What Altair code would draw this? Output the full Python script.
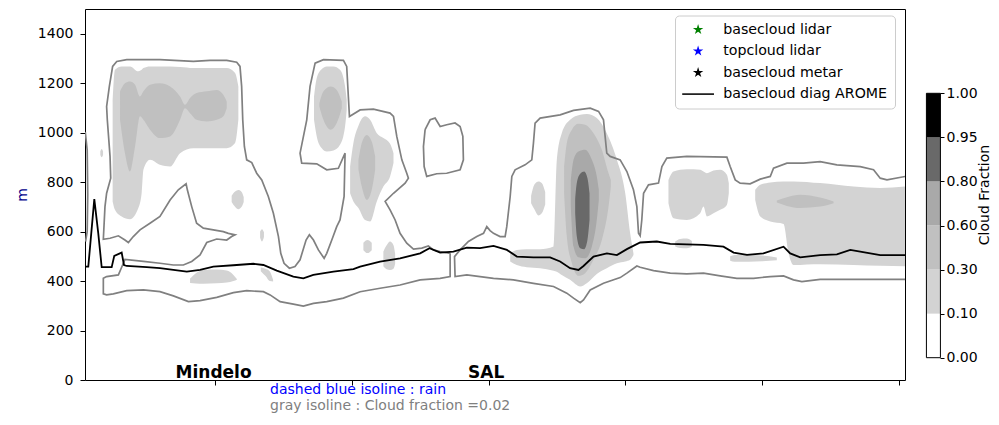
import json
import altair as alt
import pandas as pd

# ---------------- scales / ticks ----------------
x_domain = [5, 604.4]
y_domain = [0, 1500]
x_ticks = [100, 200, 300, 400, 500, 600]
y_ticks = [0, 200, 400, 600, 800, 1000, 1200, 1400]

# ---------------- basecloud diag AROME (black line) ----------------
arome_x = [5.7, 7.4, 11.8, 14.7, 17.2, 24.5, 26.4, 31.8, 33.5, 35.5, 50.1, 59.8, 69.6, 79.4, 89.1, 98.8,
           113.4, 128.1, 135.4, 145.2, 157.3, 164.6, 171.9, 186.6, 201.2, 206.1, 220.7, 235.3, 250.0, 256.8,
           264.6, 274.3, 284.1, 293.8, 303.6, 313.4, 320.7, 332.8, 345.0, 352.3, 359.6, 365.7, 369.4, 376.7,
           386.5, 393.8, 401.1, 410.8, 423.0, 432.8, 457.1, 471.7, 479.1, 488.9, 501.0, 515.6, 520.5, 527.8,
           542.4, 554.6, 564.4, 571.7, 586.3, 604.6]
arome_y = [458, 458, 731, 593, 456, 456, 502, 515, 465, 461, 456, 452, 445, 438, 445, 458,
           464, 470, 465, 442, 418, 411, 425, 438, 448, 458, 479, 492, 512, 533,
           515, 519, 535, 533, 542, 526, 499, 496, 496, 479, 452, 445, 461, 499,
           512, 505, 529, 556, 560, 550, 546, 539, 515, 506, 512, 539, 512, 496,
           505, 508, 526, 519, 505, 505]

# ---------------- gray isolines : cloud fraction = 0.02 ----------------
isoA_x = [5.2, 6.6, 7.0, 6.6, 5.4]
isoA_y = [1003, 930, 750, 600, 560]

isoB_x = [271.9, 271.9, 264.6, 250.0, 235.3, 220.7, 206.1, 193.9, 181.7, 172.0, 164.6, 157.3, 147.6, 140.3,
          135.4, 123.2, 113.5, 101.3, 89.1, 80.6, 69.6, 59.8, 47.7, 35.5, 25.7, 20.8, 18.4, 18.4, 20.8, 29.4,
          31.8, 34.2, 47.7, 59.8, 69.6, 76.9, 83.0, 89.1, 94.0, 101.3, 108.6, 112.2, 114.7, 109.8, 106.1,
          98.8, 91.5, 86.6, 83.0, 79.8, 78.9, 73.2, 67.2, 59.8, 52.5, 45.2, 40.3, 36.7, 34.2, 29.4, 23.3,
          18.4, 19.6, 20.8, 23.8, 23.3, 21.3, 20.8, 22.8, 25.2, 28.2, 35.5, 59.8, 84.2, 96.4, 108.6, 115.9,
          118.3, 119.5, 120.3, 121.5, 123.2, 126.9, 130.5, 134.2, 139.0, 142.7, 146.4, 148.1, 150.5, 154.4,
          158.5, 162.2, 166.6, 169.0, 172.0, 175.6, 179.8, 181.7, 185.4, 189.0, 191.4, 194.4, 195.1, 190.2,
          181.7, 174.4, 163.4, 162.2, 167.1, 169.5, 173.2, 179.3, 193.9, 196.3, 197.5, 198.3, 206.1, 215.8,
          228.0, 230.5, 232.9, 236.6, 240.2, 241.4, 239.0, 230.5, 224.4, 228.0, 231.7, 235.3, 240.2, 245.1,
          251.2, 256.0, 259.7, 264.6, 271.9]
isoB_y = [512, 418, 411, 405, 384, 371, 357, 331, 317, 310, 299, 307, 317, 344,
          357, 361, 353, 334, 321, 317, 340, 357, 364, 361, 348, 344, 348, 411, 418, 425,
          456, 488, 480, 472, 465, 465, 479, 506, 556, 570, 566, 580, 587, 593, 600,
          607, 614, 634, 701, 769, 793, 769, 728, 661, 634, 607, 580, 556, 566, 583, 573,
          569, 701, 755, 816, 904, 1052, 1106, 1187, 1268, 1288, 1295, 1295, 1288, 1292, 1292, 1285,
          1268, 1187, 1052, 944, 890, 879, 836, 809, 742, 674, 580, 512, 472, 452,
          459, 486, 566, 587, 566, 526, 492, 512, 566, 620, 647, 742, 917, 856,
          850, 874, 877, 917, 1052, 1187, 1281, 1295, 1292, 1268, 1146, 1065, 1092, 1095,
          1079, 1066, 985, 890, 836, 816, 796, 755, 722, 688, 647, 593, 553, 529,
          533, 542, 526, 519, 512]

isoC_x = [604.6, 566.8, 542.4, 529.0, 522.9, 515.6, 505.9, 493.7, 481.5, 469.3, 457.1, 444.9, 432.8, 420.6,
          410.8, 408.4, 401.1, 396.2, 384.0, 374.3, 369.4, 367.0, 362.1, 357.2, 347.5, 332.8, 318.2, 303.6,
          293.8, 284.1, 275.5, 275.1, 279.2, 285.3, 291.4, 296.3, 298.7, 301.1, 303.6, 308.4, 312.1, 313.3,
          315.8, 317.0, 319.4, 326.7, 331.6, 332.8, 334.0, 337.7, 352.3, 362.1, 374.3, 380.4, 384.0, 386.4,
          388.9, 396.2, 401.1, 405.9, 408.4, 409.6, 410.8, 412.0, 413.3, 416.9, 424.2, 426.7, 430.3, 444.9,
          474.2, 476.6, 480.3, 483.9, 491.2, 498.6, 505.9, 508.3, 518.1, 530.2, 542.4, 554.6, 571.7, 581.4,
          586.3, 591.2, 604.6]
isoC_y = [407, 407, 407, 398, 405, 421, 418, 411, 411, 421, 432, 429, 432, 442,
          456, 461, 432, 414, 391, 364, 324, 313, 331, 351, 378, 391, 405, 411,
          418, 425, 418, 499, 526, 560, 580, 593, 620, 604, 593, 580, 580, 620,
          742, 823, 850, 870, 890, 958, 1039, 1059, 1072, 1090, 1099, 1086, 1052, 917,
          904, 890, 843, 769, 701, 593, 583, 647, 755, 789, 796, 863, 897, 904,
          901, 863, 809, 796, 793, 812, 823, 856, 877, 877, 883, 870, 863, 850,
          816, 809, 823]

isoD_x = [253.6, 257.3, 260.9, 264.6, 269.4, 275.5, 279.2, 281.2, 281.6, 279.2, 269.4, 262.1, 254.8, 252.9,
          252.4, 253.6]
isoD_y = [1012, 1052, 1059, 1025, 1032, 1039, 1025, 985, 890, 850, 836, 834, 823, 863, 944, 1012]

# ---------------- filled cloud-fraction levels ----------------
level_names = ["0.10-0.30", "0.30-0.60", "0.60-0.80", "0.80-0.95"]
level_colors = ["#d3d3d3", "#c0c0c0", "#a9a9a9", "#696969"]

# level 0.10-0.30
big1_x = [25.2, 26.9, 31.8, 37.9, 44.0, 46.4, 47.7, 52.5, 59.8, 67.2, 74.5, 84.2, 96.4, 108.6, 114.7, 117.1]
big1_lo = [722, 688, 661, 650, 695, 755, 850, 890, 870, 863, 917, 937, 937, 937, 958, 1052]
big1_hi = [1119, 1254, 1268, 1268, 1248, 1254, 1261, 1268, 1268, 1268, 1265, 1261, 1261, 1261, 1241, 1187]
dot1_x = [16.2, 17.2, 18.2]
dot1_lo = [910, 901, 910]
dot1_hi = [925, 934, 925]
b2_x = [112.2, 114.7, 117.1, 119.5, 121.0]
b2_lo = [720, 700, 690, 700, 720]
b2_hi = [745, 762, 768, 760, 740]
b3_x = [133.0, 134.4, 135.8]
b3_lo = [575, 560, 578]
b3_hi = [600, 610, 598]
low1_x = [81.8, 86.0, 91.5, 101.3, 108.6, 113.5, 116.0]
low1_lo = [392, 390, 389, 391, 394, 400, 405]
low1_hi = [410, 432, 445, 447, 443, 425, 408]
low2_x = [133.5, 137.0, 140.0, 142.5]
low2_lo = [440, 420, 400, 398]
low2_hi = [455, 450, 440, 405]
tall1_x = [172.4, 174.4, 178.1, 181.7, 186.6, 191.4, 195.1, 196.3]
tall1_lo = [1052, 985, 937, 924, 928, 951, 1025, 1092]
tall1_hi = [1146, 1221, 1257, 1268, 1268, 1254, 1187, 1133]
c6_x = [198.8, 201.2, 204.9, 209.7, 213.4, 218.3, 223.1, 228.0, 230.5]
c6_lo = [755, 722, 695, 647, 641, 722, 782, 823, 877]
c6_hi = [863, 958, 1028, 1066, 1052, 998, 978, 955, 917]
d6a_x = [208.5, 211.5, 214.6]
d6a_lo = [525, 513, 525]
d6a_hi = [555, 566, 555]
d6b_x = [223.1, 225.5, 228.0, 230.5, 231.7]
d6b_lo = [460, 448, 445, 450, 470]
d6b_hi = [520, 545, 560, 545, 510]
sal1_x = [315.8, 320.6, 327.9, 337.7, 347.5, 349.9, 353.5, 359.6, 367.0, 371.8, 379.1, 386.4, 393.8, 399.9,
          403.5, 405.9]
sal1_lo = [479, 465, 456, 452, 442, 438, 425, 405, 378, 391, 429, 452, 472, 479, 486, 505]
sal1_hi = [512, 526, 529, 529, 540, 890, 998, 1052, 1072, 1075, 1059, 998, 890, 755, 593, 512]
sal2_x = [331.1, 333.5, 336.5, 339.0, 341.4]
sal2_lo = [715, 690, 665, 675, 710]
sal2_hi = [745, 790, 803, 795, 760]
c7_x = [431.5, 435.2, 444.9, 454.7, 457.1, 459.6, 464.4, 469.3, 474.2, 475.6]
c7_lo = [715, 654, 647, 674, 701, 661, 674, 688, 708, 755]
c7_hi = [809, 843, 852, 850, 843, 836, 847, 850, 830, 796]
d7_x = [436.4, 440.0, 444.9, 448.6]
d7_lo = [540, 534, 533, 540]
d7_hi = [560, 570, 572, 562]
s7_x = [476.6, 480.0, 490.0, 500.0, 510.7]
s7_lo = [482, 478, 478, 480, 484]
s7_hi = [500, 505, 506, 503, 495]
r7_x = [494.9, 498.6, 505.9, 515.6, 519.3, 522.9, 542.4, 566.8, 586.3, 604.6]
r7_lo = [728, 661, 641, 631, 512, 465, 468, 465, 462, 460]
r7_hi = [769, 789, 799, 803, 803, 803, 796, 782, 776, 782]

# level 0.30-0.60
big2_x = [30.6, 34.2, 37.9, 41.6, 45.2, 47.7, 52.5, 59.8, 67.2, 74.5, 78.1, 81.8, 86.6, 94.0, 101.3, 106.1, 108.6]
big2_lo = [1052, 917, 843, 944, 1066, 1052, 1012, 978, 985, 1052, 1099, 1079, 1052, 1045, 1052, 1066, 1099]
big2_hi = [1167, 1200, 1207, 1194, 1146, 1167, 1194, 1200, 1187, 1146, 1113, 1140, 1160, 1167, 1173, 1153, 1126]
tall2_x = [176.3, 179.3, 184.6, 189.0, 192.7]
tall2_lo = [1106, 1052, 1012, 1039, 1099]
tall2_hi = [1119, 1167, 1187, 1173, 1126]
c6b_x = [204.9, 207.3, 211.0, 214.6, 217.1]
c6b_lo = [850, 782, 728, 769, 850]
c6b_hi = [890, 958, 991, 964, 904]
sal3_x = [355.2, 357.2, 360.9, 365.7, 370.6, 376.7, 382.8, 387.7, 389.4]
sal3_lo = [755, 580, 472, 421, 432, 486, 566, 701, 782]
sal3_hi = [863, 958, 1012, 1036, 1032, 998, 931, 836, 809]
r7b_x = [510.7, 518.1, 527.8, 542.4, 552.2]
r7b_lo = [718, 704, 695, 701, 715]
r7b_hi = [726, 739, 749, 738, 722]

# level 0.60-0.80
sal4_x = [360.1, 362.1, 365.7, 370.6, 375.5, 379.1, 380.6]
sal4_lo = [701, 540, 496, 492, 540, 647, 728]
sal4_hi = [809, 890, 924, 931, 890, 823, 769]

# level 0.80-0.95
sal5_x = [363.3, 364.5, 367.0, 369.9, 372.3, 373.8]
sal5_lo = [674, 580, 533, 529, 567, 647]
sal5_hi = [728, 796, 834, 843, 816, 755]

# ---------------- texts ----------------
places = ["Mindelo", "SAL"]
places_x = [99.0, 298.2]
places_y = [7, 7]

notes = ["dashed blue isoline : rain", "gray isoline : Cloud fraction =0.02"]
notes_color = ["blue", "gray"]
notes_x = [140.3, 140.3]
notes_y = [-54.6, -119.4]

legend_labels = ["basecloud lidar", "topcloud lidar", "basecloud metar", "basecloud diag AROME"]
legend_colors = ["green", "blue", "black", "black"]
STAR = ("M0,-1L0.2245,-0.309L0.951,-0.309L0.363,0.118L0.588,0.809L0,0.382L-0.588,0.809"
        "L-0.363,0.118L-0.951,-0.309L-0.2245,-0.309Z")
LINE = "M-2.9,-0.14L2.9,-0.14L2.9,0.14L-2.9,0.14Z"
legend_shapes = [STAR, STAR, STAR, LINE]

cb_bounds = ["0.00", "0.10", "0.30", "0.60", "0.80", "0.95", "1.00"]
cb_colors = ["#ffffff", "#d3d3d3", "#c0c0c0", "#a9a9a9", "#696969", "#000000"]

# ---------------- build tables ----------------
blobs = [
    ("big1", level_names[0], big1_x, big1_lo, big1_hi),
    ("dot1", level_names[0], dot1_x, dot1_lo, dot1_hi),
    ("b2", level_names[0], b2_x, b2_lo, b2_hi),
    ("b3", level_names[0], b3_x, b3_lo, b3_hi),
    ("low1", level_names[0], low1_x, low1_lo, low1_hi),
    ("low2", level_names[0], low2_x, low2_lo, low2_hi),
    ("tall1", level_names[0], tall1_x, tall1_lo, tall1_hi),
    ("c6", level_names[0], c6_x, c6_lo, c6_hi),
    ("d6a", level_names[0], d6a_x, d6a_lo, d6a_hi),
    ("d6b", level_names[0], d6b_x, d6b_lo, d6b_hi),
    ("sal1", level_names[0], sal1_x, sal1_lo, sal1_hi),
    ("sal2", level_names[0], sal2_x, sal2_lo, sal2_hi),
    ("c7", level_names[0], c7_x, c7_lo, c7_hi),
    ("d7", level_names[0], d7_x, d7_lo, d7_hi),
    ("s7", level_names[0], s7_x, s7_lo, s7_hi),
    ("r7", level_names[0], r7_x, r7_lo, r7_hi),
    ("big2", level_names[1], big2_x, big2_lo, big2_hi),
    ("tall2", level_names[1], tall2_x, tall2_lo, tall2_hi),
    ("c6b", level_names[1], c6b_x, c6b_lo, c6b_hi),
    ("sal3", level_names[1], sal3_x, sal3_lo, sal3_hi),
    ("r7b", level_names[1], r7b_x, r7b_lo, r7b_hi),
    ("sal4", level_names[2], sal4_x, sal4_lo, sal4_hi),
    ("sal5", level_names[3], sal5_x, sal5_lo, sal5_hi),
]
rows = []
for name, lvl, xs_, lo_, hi_ in blobs:
    for a, b, c in zip(xs_, lo_, hi_):
        rows.append({"blob": name, "level": lvl, "x": a, "lo": b, "hi": c})
df_fill = pd.DataFrame(rows)

iso_rows = []
for name, xs_, ys_ in [("A", isoA_x, isoA_y), ("B", isoB_x, isoB_y), ("C", isoC_x, isoC_y), ("D", isoD_x, isoD_y)]:
    for i, (a, b) in enumerate(zip(xs_, ys_)):
        iso_rows.append({"id": name, "ord": i, "x": a, "y": b})
df_iso = pd.DataFrame(iso_rows)

df_arome = pd.DataFrame({"x": arome_x, "y": arome_y, "ord": list(range(len(arome_x)))})
df_places = pd.DataFrame({"label": places, "x": places_x, "y": places_y})
df_notes = pd.DataFrame({"label": notes, "x": notes_x, "y": notes_y, "col": notes_color})
df_leg = pd.DataFrame({"series": legend_labels, "x": [None] * 4, "y": [None] * 4})

# ---------------- main panel ----------------
xs = alt.Scale(domain=x_domain, nice=False, zero=False)
ys = alt.Scale(domain=y_domain, nice=False, zero=False)
x_axis = alt.Axis(values=x_ticks, labels=False, title=None, domain=False, grid=False,
                  ticks=True, tickSize=5, tickColor="black")
y_axis = alt.Axis(values=y_ticks, format="d", title="m", titleColor="darkblue", titleFontSize=14,
                  titleFontWeight="normal", titlePadding=8, labelFontSize=14, labelPadding=7,
                  tickSize=5, tickColor="black", domain=False, grid=False, labelColor="black")


def X(f):
    return alt.X(f, type="quantitative", scale=xs, axis=x_axis)


def Y(f):
    return alt.Y(f, type="quantitative", scale=ys, axis=y_axis)


layers = []
for lvl, col in zip(level_names, level_colors):
    layers.append(
        alt.Chart(df_fill).transform_filter(alt.datum.level == lvl)
        .mark_area(interpolate="monotone", color=col, clip=True)
        .encode(x=X("x"), y=Y("lo"), y2="hi", detail="blob:N")
    )

iso = alt.Chart(df_iso).mark_line(color="#808080", strokeWidth=1.7, clip=True).encode(
    x=X("x"), y=Y("y"), detail="id:N", order="ord:Q")
arome = alt.Chart(df_arome).mark_line(color="black", strokeWidth=1.8, clip=True).encode(
    x=X("x"), y=Y("y"), order="ord:Q")
place_txt = alt.Chart(df_places).mark_text(font="DejaVu Sans", fontSize=17, fontWeight="bold",
                                           baseline="alphabetic", align="center", color="black").encode(
    x=X("x"), y=Y("y"), text="label:N")
note_txt = alt.Chart(df_notes).mark_text(font="DejaVu Sans", fontSize=14, baseline="alphabetic",
                                         align="left").encode(
    x=X("x"), y=Y("y"), text="label:N", fill=alt.Fill("col:N", scale=None))

leg = alt.Legend(title=None, orient="none", legendX=590, legendY=6.5, direction="vertical",
                 fillColor="rgba(255,255,255,0.8)", strokeColor="#cccccc", cornerRadius=4, padding=7,
                 labelFont="DejaVu Sans", labelFontSize=14.2, labelColor="black", labelLimit=400,
                 symbolSize=120, symbolStrokeWidth=0, symbolOffset=9, labelOffset=18, rowPadding=6.5)
legend_pts = alt.Chart(df_leg).mark_point(filled=True, opacity=1, size=120).encode(
    x=X("x"), y=Y("y"),
    color=alt.Color("series:N", scale=alt.Scale(domain=legend_labels, range=legend_colors), legend=leg),
    shape=alt.Shape("series:N", scale=alt.Scale(domain=legend_labels, range=legend_shapes), legend=leg),
)

main = alt.layer(*layers, iso, arome, place_txt, note_txt, legend_pts)

# ---------------- colorbar (own scales, drawn right of the plot) ----------------
df_cb = pd.DataFrame({"lo": list(range(6)), "hi": list(range(1, 7)), "fill": cb_colors,
                      "x0": [0] * 6, "x1": [1] * 6})
df_cb_frame = pd.DataFrame({"lo": [0], "hi": [6], "x0": [0], "x1": [1]})
cb_x = alt.Scale(domain=[-60.1, -1.53], nice=False, zero=False)
cb_y = alt.Scale(domain=[-0.506, 7.913], nice=False, zero=False)
cb_axis = alt.Axis(orient="right", offset=35, values=list(range(7)),
                   labelExpr=json.dumps(cb_bounds) + "[datum.value]",
                   title="Cloud Fraction", titleAngle=270, titleBaseline="top", titlePadding=0,
                   titleFontSize=14, titleFontWeight="normal", titleColor="black",
                   labelFontSize=14, labelPadding=2, tickSize=4, tickColor="black",
                   domain=False, grid=False, labelColor="black")
cb_rect = alt.Chart(df_cb).mark_rect().encode(
    x=alt.X("x0:Q", scale=cb_x, axis=None), x2="x1:Q",
    y=alt.Y("lo:Q", scale=cb_y, axis=cb_axis), y2="hi:Q",
    fill=alt.Fill("fill:N", scale=None))
cb_frame = alt.Chart(df_cb_frame).mark_rect(fillOpacity=0, stroke="black", strokeWidth=1).encode(
    x=alt.X("x0:Q", scale=cb_x, axis=None), x2="x1:Q",
    y=alt.Y("lo:Q", scale=cb_y, axis=cb_axis), y2="hi:Q")
cbar = alt.layer(cb_rect, cb_frame)

chart = alt.layer(main, cbar).resolve_scale(x="independent", y="independent").properties(
    width=820, height=371,
    autosize=alt.AutoSizeParams(type="none"),
    padding={"left": 77, "top": 1, "right": 86, "bottom": 33},
).configure(font="DejaVu Sans").configure_axis(
    labelFont="DejaVu Sans", titleFont="DejaVu Sans"
).configure_view(stroke="black", strokeWidth=1)

chart.save("out.html", embed_options={"renderer": "svg", "actions": False})
